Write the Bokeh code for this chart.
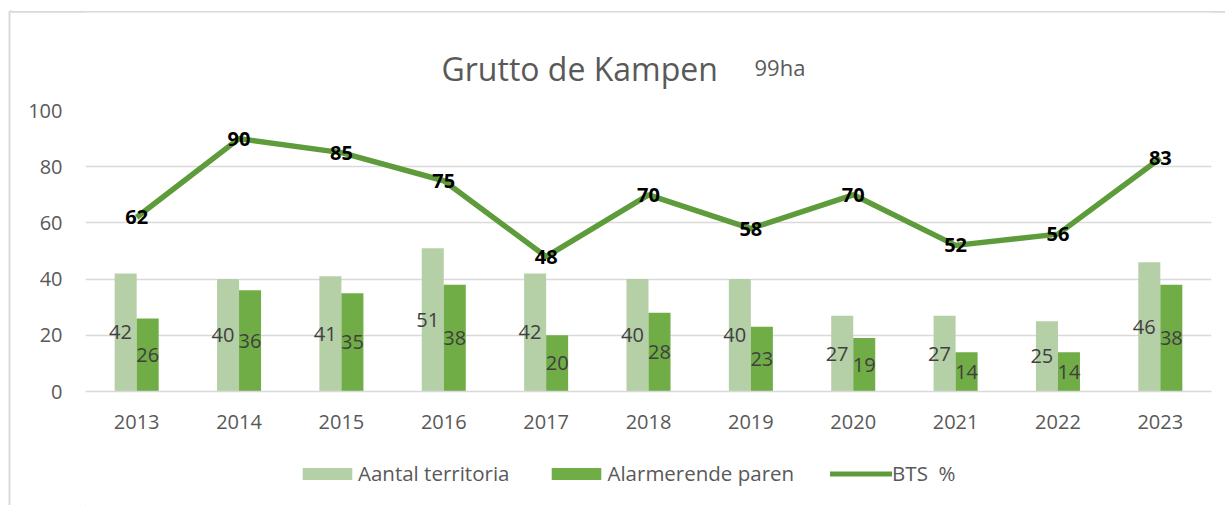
from bokeh.plotting import figure
from bokeh.models import (ColumnDataSource, FactorRange, Range1d, FixedTicker, Legend,
                          LegendItem, Div)
from bokeh.layouts import column, row
from bokeh.transform import dodge
from bokeh.core.properties import value
from bokeh.embed import file_html
from bokeh.resources import INLINE

years = ["2013", "2014", "2015", "2016", "2017", "2018", "2019", "2020", "2021", "2022", "2023"]
territoria = [42, 40, 41, 51, 42, 40, 40, 27, 27, 25, 46]
alarmerend = [26, 36, 35, 38, 20, 28, 23, 19, 14, 14, 38]
bts = [62, 90, 85, 75, 48, 70, 58, 70, 52, 56, 83]
y_ticks = [0, 20, 40, 60, 80, 100]
title_main = "Grutto de Kampen"
title_sub = "99ha"
series_names = ["Aantal territoria", "Alarmerende paren", "BTS  %"]

FONT = "Open Sans"
C_LIGHT = "#B5CFA7"
C_DARK = "#70AD47"
C_LINE = "#5E9B3B"
C_TEXT = "#595959"
C_BORDER = "#D9D9D9"
W = 1225
SW = 12          # width of the left border strip
H_TOP = 12       # strip holding the top border line
H_TITLE = 84
H_MAIN = 345
H_LEG = 64
FL, FR = 85, 1211   # page x of the plot frame edges


def bare_fig(h, y1):
    f = figure(width=W - SW, height=h, x_range=Range1d(FL, FR), y_range=Range1d(0, y1),
               x_axis_location=None, y_axis_location=None,
               output_backend="svg", toolbar_location=None,
               min_border_left=FL - SW, min_border_right=W - FR,
               min_border_top=0, min_border_bottom=0)
    f.grid.visible = False
    f.outline_line_color = None
    f.border_fill_color = "white"
    f.background_fill_color = "white"
    return f


# ---------- left border strip ----------
s = figure(width=SW, height=505, x_range=Range1d(0, SW), y_range=Range1d(0, 505),
           x_axis_location=None, y_axis_location=None, output_backend="svg",
           toolbar_location=None, min_border_left=0, min_border_right=0,
           min_border_top=0, min_border_bottom=0)
s.grid.visible = False
s.outline_line_color = None
s.line(x=[9, 9, SW], y=[0, 494, 494], line_color=C_BORDER, line_width=2)

# ---------- top border line ----------
topline = Div(width=W - SW, height=H_TOP, margin=0,
              text='<div style="position:absolute;left:0;top:11px;width:%dpx;height:1.5px;'
                   'background:%s"></div>' % (W - SW, C_BORDER))

# ---------- title ----------
t = bare_fig(H_TITLE, H_TITLE)
t.text(x=[441], y=[H_TITLE + H_TOP - 67.5], text=[title_main], text_font=value(FONT),
       text_font_size=value("32px"), text_color=C_TEXT, text_baseline="alphabetic")
t.text(x=[754], y=[H_TITLE + H_TOP - 66.7], text=[title_sub], text_font=value(FONT),
       text_font_size=value("22px"), text_color=C_TEXT, text_baseline="alphabetic")

# ---------- main chart ----------
src = ColumnDataSource(dict(
    year=years,
    ter=territoria,
    alm=alarmerend,
    bts=bts,
    ter_mid=[v / 2 for v in territoria],
    alm_mid=[v / 2 for v in alarmerend],
    ter_txt=[str(v) for v in territoria],
    alm_txt=[str(v) for v in alarmerend],
    bts_txt=[str(v) for v in bts],
))

top0 = H_TOP + H_TITLE
p = figure(width=W - SW, height=H_MAIN, x_range=FactorRange(factors=years, range_padding=0),
           y_range=Range1d(0, 100), output_backend="svg", toolbar_location=None,
           min_border_left=FL - SW, min_border_right=W - FR, min_border_top=110 - top0,
           min_border_bottom=top0 + H_MAIN - 391)
p.outline_line_color = None
p.background_fill_color = "white"
p.border_fill_color = "white"

bw = 0.215
off = 0.1075
p.vbar(x=dodge("year", -off, range=p.x_range), top="ter", width=bw, source=src,
       fill_color=C_LIGHT, line_color=None)
p.vbar(x=dodge("year", off, range=p.x_range), top="alm", width=bw, source=src,
       fill_color=C_DARK, line_color=None)
p.line(x="year", y="bts", source=src, line_color=C_LINE, line_width=5.5)

p.text(x=dodge("year", -off - 0.05, range=p.x_range), y="ter_mid", text="ter_txt", source=src,
       text_font=value(FONT), text_font_size=value("20px"), text_color="#404040",
       text_align="center", text_baseline="middle")
p.text(x=dodge("year", off, range=p.x_range), y="alm_mid", text="alm_txt", source=src,
       text_font=value(FONT), text_font_size=value("20px"), text_color="#404040",
       text_align="center", text_baseline="middle")
p.text(x="year", y="bts", text="bts_txt", source=src,
       text_font=value(FONT), text_font_size=value("20px"), text_font_style="bold",
       text_color="black", text_align="center", text_baseline="middle")

p.yaxis.ticker = FixedTicker(ticks=y_ticks)
p.yaxis.axis_line_color = None
p.yaxis.major_tick_line_color = None
p.yaxis.minor_tick_line_color = None
p.yaxis.major_tick_out = 0
p.yaxis.major_tick_in = 0
p.yaxis.major_label_standoff = 23
p.yaxis.major_label_text_font = FONT
p.yaxis.major_label_text_font_size = "20px"
p.yaxis.major_label_text_color = C_TEXT

p.xaxis.axis_line_color = C_BORDER
p.xaxis.axis_line_width = 1.5
p.xaxis.major_tick_line_color = None
p.xaxis.minor_tick_line_color = None
p.xaxis.major_tick_out = 0
p.xaxis.major_tick_in = 0
p.xaxis.major_label_standoff = 23
p.xaxis.major_label_text_font = FONT
p.xaxis.major_label_text_font_size = "20px"
p.xaxis.major_label_text_color = C_TEXT

p.xgrid.grid_line_color = None
p.ygrid.grid_line_color = C_BORDER
p.ygrid.grid_line_width = 1.5

# ---------- legend strip ----------
lg = bare_fig(H_LEG, H_LEG)
# key swatches: renderers placed outside the visible range, used only for the legend
e1 = lg.vbar(x=[-100], top=[1], width=1, fill_color=C_LIGHT, line_color=None)
e2 = lg.vbar(x=[-100], top=[1], width=1, fill_color=C_DARK, line_color=None)
e3 = lg.line(x=[-110, -100], y=[1, 1], line_color=C_LINE, line_width=5, line_cap="round")
legend = Legend(items=[LegendItem(label=series_names[0], renderers=[e1]),
                       LegendItem(label=series_names[1], renderers=[e2]),
                       LegendItem(label=series_names[2], renderers=[e3])],
                orientation="horizontal", location=(296 - FL, 18))
legend.label_text_font = FONT
legend.label_text_font_size = "20.5px"
legend.label_text_color = C_TEXT
legend.glyph_width = 62
legend.glyph_height = 15
legend.label_standoff = 0
legend.spacing = 36
legend.border_line_color = None
legend.background_fill_alpha = 0
legend.margin = 0
legend.padding = 0
lg.add_layout(legend)

layout = row(s, column(topline, t, p, lg, spacing=0), spacing=0)

open("out.html", "w").write(file_html(layout, INLINE))
